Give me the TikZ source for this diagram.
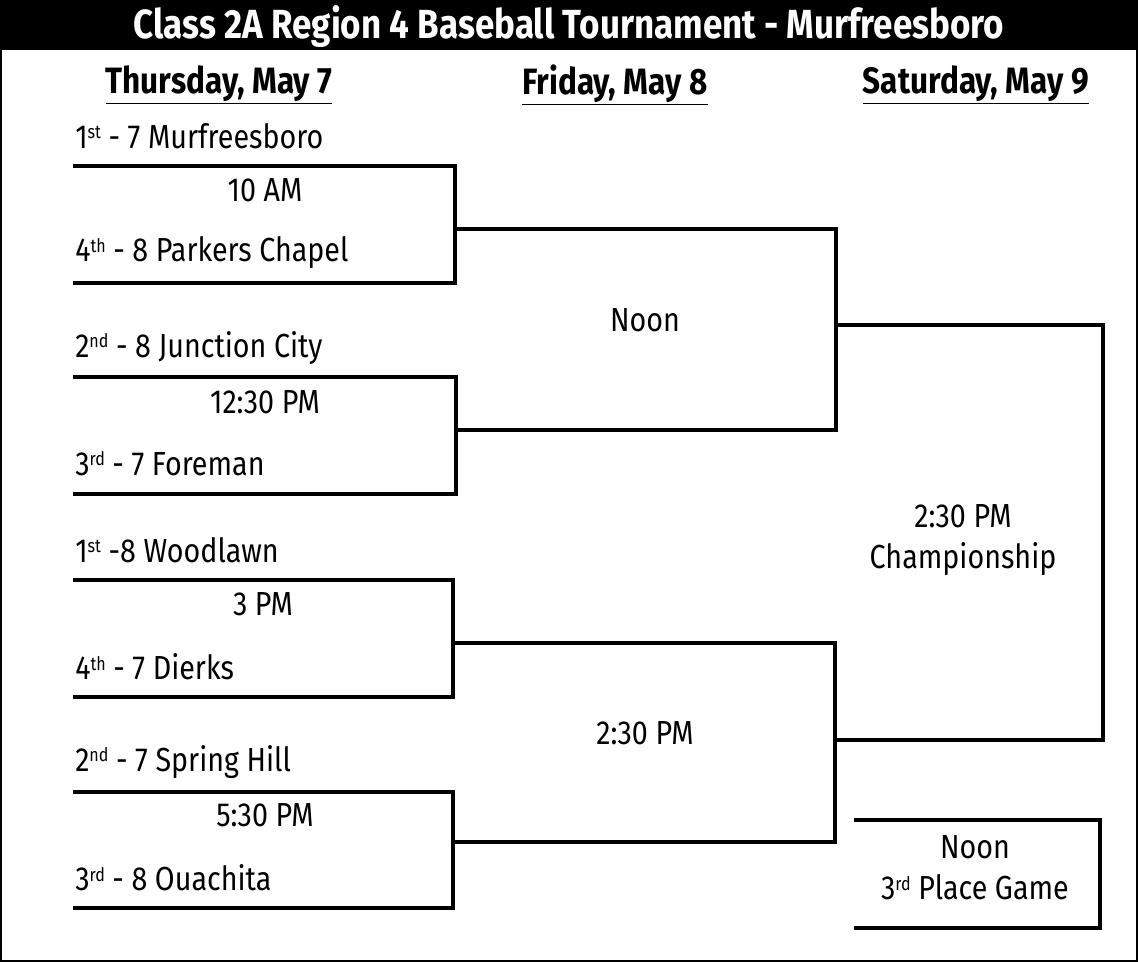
\documentclass[tikz,border=0pt]{standalone}
\usepackage{fontspec}
\setmainfont{Fira Sans}[FakeStretch=0.86]
\newcommand{\ordsup}[1]{\raisebox{0.55ex}{\fontsize{14}{14}\selectfont #1}}
\begin{document}
\begin{tikzpicture}[x=0.75pt,y=-0.75pt,
  txt/.style={font=\fontsize{25}{29}\selectfont\mdseries, inner sep=0pt},
  team/.style={txt,anchor=west},
  hdr/.style={txt,font=\fontsize{27.5}{31}\selectfont\bfseries},
  br/.style={line width=2.4pt},
  frame/.style={line width=2.2pt}]
\useasboundingbox (0,0) rectangle (1138,962);
\fill (0,0) rectangle (1138,50);
\draw[frame] (1,1) rectangle (1137,961);
\node[txt,text=white,font=\fontsize{30.5}{33}\selectfont\bfseries] (title) at (569,27) {Class 2A Region 4 Baseball Tournament - Murfreesboro};
\node[hdr] (h1) at (219,85) {\underline{Thursday, May 7}};
\node[hdr] (h2) at (615,85) {\underline{Friday, May 8}};
\node[hdr] (h3) at (976,85) {\underline{Saturday, May 9}};
\node[team] (t1) at (75,136) {1\ordsup{st} - 7 Murfreesboro};
\node[txt] (g1) at (265,190) {10 AM};
\node[team] (t2) at (75,253) {4\ordsup{th} - 8 Parkers Chapel};
\node[team] (t3) at (75,348) {2\ordsup{nd} - 8 Junction City};
\node[txt] (g2) at (265,402) {12:30 PM};
\node[team] (t4) at (75,464) {3\ordsup{rd} - 7 Foreman};
\node[team] (t5) at (75,550) {1\ordsup{st} -8 Woodlawn};
\node[txt] (g3) at (263,604) {3 PM};
\node[team] (t6) at (75,667) {4\ordsup{th} - 7 Dierks};
\node[team] (t7) at (75,762) {2\ordsup{nd} - 7 Spring Hill};
\node[txt] (g4) at (265,815) {5:30 PM};
\node[team] (t8) at (75,878) {3\ordsup{rd} - 8 Ouachita};
\node[txt] (s1) at (645,320) {Noon};
\node[txt] (s2) at (645,733) {2:30 PM};
\node[txt,align=center] (ch) at (963,540) {2:30 PM\\[2pt]Championship};
\node[txt,align=center] (tp) at (975,868) {Noon\\[2pt]3\ordsup{rd} Place Game};
\coordinate (a1) at (73,166); \coordinate (a2) at (455,166); \coordinate (a3) at (455,283); \coordinate (a4) at (73,283);
\coordinate (b1) at (73,377); \coordinate (b2) at (456,377); \coordinate (b3) at (456,494); \coordinate (b4) at (73,494);
\coordinate (c1) at (73,580); \coordinate (c2) at (453,580); \coordinate (c3) at (453,697); \coordinate (c4) at (73,697);
\coordinate (d1) at (73,792); \coordinate (d2) at (453,792); \coordinate (d3) at (453,908); \coordinate (d4) at (73,908);
\coordinate (e1) at (455,229); \coordinate (e2) at (836,229); \coordinate (e3) at (836,430); \coordinate (e4) at (456,430);
\coordinate (f1) at (453,643); \coordinate (f2) at (835,643); \coordinate (f3) at (835,842); \coordinate (f4) at (453,842);
\coordinate (k1) at (836,325); \coordinate (k2) at (1103,325); \coordinate (k3) at (1103,740); \coordinate (k4) at (835,740);
\coordinate (m1) at (854,820); \coordinate (m2) at (1100,820); \coordinate (m3) at (1100,928); \coordinate (m4) at (854,928);
\foreach \p in {a,b,c,d,e,f,k,m}
  \draw[br] (\p1) -- (\p2) -- (\p3) -- (\p4);
\end{tikzpicture}
\end{document}
